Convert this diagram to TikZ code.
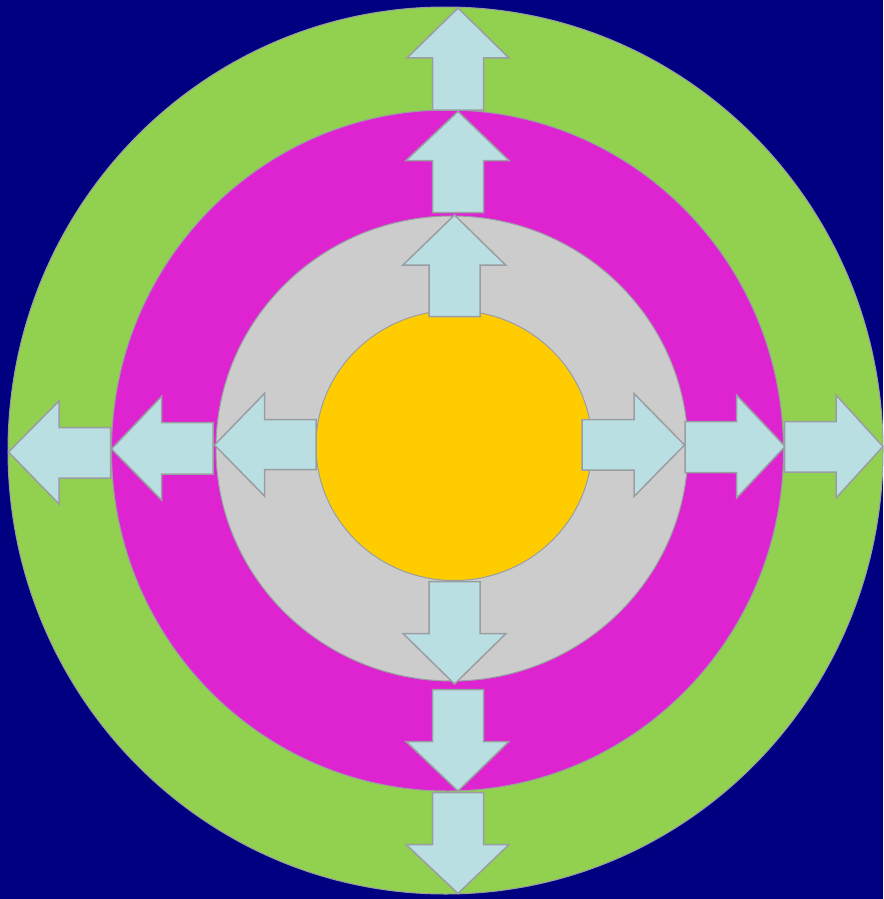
\documentclass[tikz,border=0pt]{standalone}
\definecolor{bgnavy}{HTML}{000080}
\definecolor{ringgreen}{HTML}{92D050}
\definecolor{ringmag}{HTML}{DD24D0}
\definecolor{ringgray}{HTML}{CCCCCC}
\definecolor{coreyel}{HTML}{FFCC00}
\definecolor{arrfill}{HTML}{BADFE2}
\definecolor{edgegray}{HTML}{9A9EA3}
\tikzset{
  ring/.style={draw=edgegray, line width=1pt},
  blockarrow/.style={fill=arrfill, draw=edgegray, line width=1.5pt, line join=miter},
}
\begin{document}
\begin{tikzpicture}[x=1pt,y=-1pt]
\fill[bgnavy] (0,0) rectangle (883,899);
\useasboundingbox (0,0) rectangle (883,899);
% rings
\draw[ring, fill=ringgreen] (445.5,450.5) ellipse [x radius=437.5, y radius=443.5];
\draw[ring, fill=ringmag] (447.5,450.5) ellipse [x radius=336, y radius=340.5];
\draw[ring, fill=ringgray] (452,448.5) ellipse [x radius=236, y radius=232.5];
\draw[ring, fill=coreyel] (454,445.5) ellipse [x radius=138, y radius=135];
% up arrows
\draw[blockarrow] (458,8) -- (509,58) -- (483.5,58) -- (483.5,110) -- (432.5,110) -- (432.5,58) -- (407,58) -- cycle;
\draw[blockarrow] (458,111.5) -- (509,160.5) -- (483.5,160.5) -- (483.5,212.5) -- (432.5,212.5) -- (432.5,160.5) -- (406,160.5) -- cycle;
\draw[blockarrow] (454.5,215) -- (505.5,265) -- (480,265) -- (480,316.5) -- (429,316.5) -- (429,265) -- (403,265) -- cycle;
% down arrows
\draw[blockarrow] (454.5,684) -- (506,633.5) -- (480,633.5) -- (480,581.5) -- (429,581.5) -- (429,633.5) -- (403,633.5) -- cycle;
\draw[blockarrow] (458,791) -- (509,741.5) -- (483.5,741.5) -- (483.5,689.5) -- (432.5,689.5) -- (432.5,741.5) -- (406,741.5) -- cycle;
\draw[blockarrow] (458,893.5) -- (509,844.5) -- (483.5,844.5) -- (483.5,792.5) -- (432.5,792.5) -- (432.5,844.5) -- (406,844.5) -- cycle;
% left arrows
\draw[blockarrow] (8.5,452) -- (59,401) -- (59,427.5) -- (110.5,427.5) -- (110.5,478) -- (59,478) -- (59,504) -- cycle;
\draw[blockarrow] (111.5,449) -- (161.5,396.5) -- (161.5,422.5) -- (213,422.5) -- (213,474) -- (161.5,474) -- (161.5,500) -- cycle;
\draw[blockarrow] (214.5,445) -- (264.5,393.5) -- (264.5,419.5) -- (316,419.5) -- (316,469.5) -- (264.5,469.5) -- (264.5,496) -- cycle;
% right arrows
\draw[blockarrow] (684.5,445) -- (634,393.5) -- (634,419.5) -- (582,419.5) -- (582,470) -- (634,470) -- (634,496.5) -- cycle;
\draw[blockarrow] (785,446.5) -- (736.5,395) -- (736.5,421.5) -- (685,421.5) -- (685,472.5) -- (736.5,472.5) -- (736.5,498) -- cycle;
\draw[blockarrow] (883,446.5) -- (836,395) -- (836,421.5) -- (784.5,421.5) -- (784.5,472) -- (836,472) -- (836,498) -- cycle;
\end{tikzpicture}
\end{document}
